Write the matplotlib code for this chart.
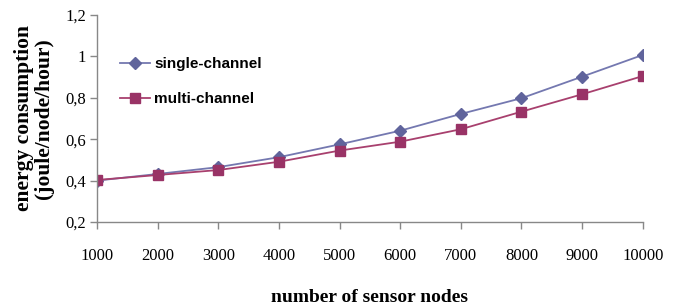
import matplotlib
matplotlib.use("Agg")
import matplotlib.pyplot as plt

nodes = [1000, 2000, 3000, 4000, 5000, 6000, 7000, 8000, 9000, 10000]
single_channel = [0.400, 0.432, 0.465, 0.513, 0.575, 0.641, 0.722, 0.798, 0.902, 1.007]
multi_channel = [0.403, 0.427, 0.451, 0.491, 0.545, 0.588, 0.648, 0.733, 0.817, 0.905]
y_ticks = [0.2, 0.4, 0.6, 0.8, 1.0, 1.2]
y_tick_labels = ["0,2", "0,4", "0,6", "0,8", "1", "1,2"]

fig = plt.figure(figsize=(6.78, 3.06), dpi=100)
ax = fig.add_axes([0.143, 0.2745, 0.805, 0.6765])

ax.plot(nodes, single_channel, color="#7478b0", lw=1.3, marker="D", ms=6,
        mfc="#60649c", mec="#60649c", label="single-channel")
ax.plot(nodes, multi_channel, color="#a8406e", lw=1.3, marker="s", ms=7,
        mfc="#993366", mec="#993366", label="multi-channel")

ax.set_xlim(1000, 10000)
ax.set_ylim(0.2, 1.2)
ax.set_xticks(nodes)
ax.set_xticklabels([str(n) for n in nodes], family="Liberation Serif", fontsize=12)
ax.set_yticks(y_ticks)
ax.set_yticklabels(y_tick_labels, family="Liberation Serif", fontsize=12)
ax.tick_params(axis="both", direction="out", length=5, color="#888888", width=1)
ax.tick_params(axis="x", pad=14)
ax.tick_params(axis="y", pad=3)

for side in ["top", "right"]:
    ax.spines[side].set_visible(False)
for side in ["left", "bottom"]:
    ax.spines[side].set_color("#888888")
    ax.spines[side].set_linewidth(1)

ax.set_xlabel("number of sensor nodes", family="Liberation Serif", fontweight="bold",
              fontsize=14, labelpad=18)
ax.set_ylabel("energy consumption\n(joule/node/hour)", family="Liberation Serif",
              fontweight="bold", fontsize=15.5, labelpad=8, linespacing=1.0)

leg = ax.legend(loc="upper left", bbox_to_anchor=(0.042, 0.796), frameon=False,
                prop={"family": "Liberation Sans", "weight": "bold", "size": 11},
                handlelength=2.0, handletextpad=0.25, labelspacing=1.35,
                borderpad=0, borderaxespad=0)

fig.savefig("out.png", dpi=100)
